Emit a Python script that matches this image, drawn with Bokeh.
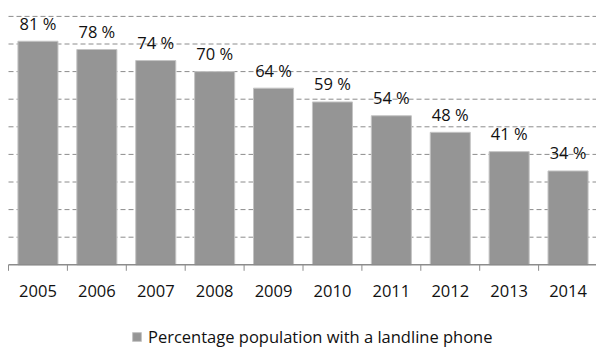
from bokeh.plotting import figure
from bokeh.models import (ColumnDataSource, Legend, LegendItem, Range1d)
from bokeh.core.properties import value
from bokeh.embed import file_html
from bokeh.resources import INLINE

years = ["2005", "2006", "2007", "2008", "2009",
         "2010", "2011", "2012", "2013", "2014"]
share = [81, 78, 74, 70, 64, 59, 54, 48, 41, 34]
grid_levels = [10, 20, 30, 40, 50, 60, 70, 80, 90]
series_name = "Percentage population with a landline phone"

FONT = "Open Sans"
TEXT = "#111111"
AXIS = "#8c8c8c"

W, H = 596, 347
# plot-area geometry in pixels
left_px, cat_px = 8, 58.9          # left edge and width of one category
base_px, unit_px = 264.3, 2.76      # baseline from top, pixels per percent
tick_px = 6

n = len(years)
centers = [i + 0.5 for i in range(n)]
bounds = list(range(n + 1))

bars_src = ColumnDataSource(dict(
    x=centers,
    top=share,
    label=[f"{v} %" for v in share],
    year=years,
))

p = figure(width=W, height=H, output_backend="svg", toolbar_location=None,
           x_axis_location=None, y_axis_location=None,
           x_range=Range1d(-left_px / cat_px, (W - left_px) / cat_px),
           y_range=Range1d(-(H - base_px) / unit_px, base_px / unit_px),
           min_border=0)
p.outline_line_color = None
p.background_fill_color = "white"
p.border_fill_color = "white"
p.xgrid.visible = False
p.ygrid.visible = False

# dashed horizontal gridlines every 10 % across the category area
p.segment(x0=[0] * len(grid_levels), y0=grid_levels,
          x1=[n] * len(grid_levels), y1=grid_levels,
          line_color=AXIS, line_dash="5 3", line_width=1)

bars = p.vbar(x="x", top="top", width=0.68, bottom=0, source=bars_src,
              fill_color="#959595", line_color="#c4c4c4", line_width=1)

# value labels above each bar
p.text(x="x", y="top", text="label", source=bars_src,
       text_align="center", text_baseline="alphabetic", y_offset=-18,
       text_font_size="16.5px", text_color=TEXT, text_font=value(FONT))

# category axis: baseline, tick marks between categories, year labels
p.segment(x0=0, y0=0, x1=n, y1=0, line_color=AXIS, line_width=1.5)
p.segment(x0=bounds, y0=[0] * len(bounds), x1=bounds,
          y1=[-tick_px / unit_px] * len(bounds),
          line_color=AXIS, line_width=1)
p.text(x="x", y=0, text="year", source=bars_src,
       text_align="center", text_baseline="alphabetic", y_offset=26,
       text_font_size="16.5px", text_color=TEXT, text_font=value(FONT))

# series legend under the axis
legend = Legend(items=[LegendItem(label=series_name, renderers=[bars])],
                location=(131, -1), orientation="horizontal",
                border_line_alpha=0, background_fill_alpha=0,
                glyph_width=11, glyph_height=11,
                label_text_font=FONT, label_text_font_size="16.5px",
                label_text_color=TEXT, label_standoff=6,
                padding=0, margin=0)
p.add_layout(legend)

open("out.html", "w").write(file_html(p, INLINE))
